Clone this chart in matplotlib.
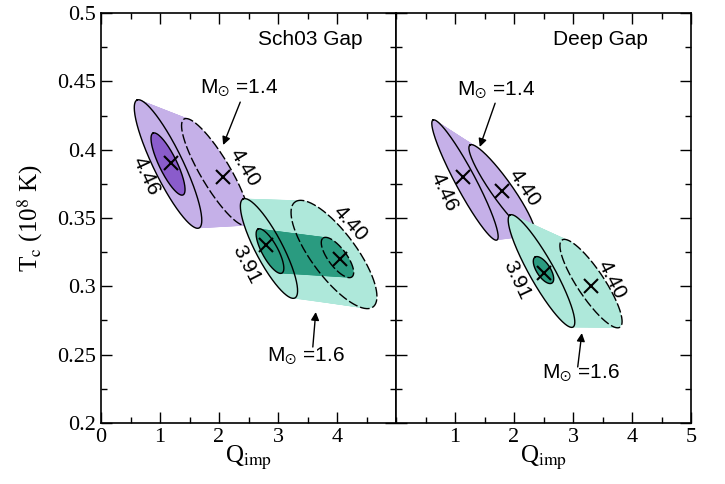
import numpy as np
import matplotlib
matplotlib.use("Agg")
import matplotlib.pyplot as plt

plt.rcParams['mathtext.fontset'] = 'stix'
SERIF = 'Liberation Serif'
SANS = 'Liberation Sans'

# ---------------- data ----------------
# ellipse: (centre x, centre y, major-axis tip x, tip y, minor semi-axis in Q units)
# Left panel (Sch03 Gap)
L_P446_out = (1.136, 0.3895, 0.610, 0.4363, 0.25)
L_P446_in = (1.136, 0.3895, 0.881, 0.4121, 0.15)
L_P440_out = (1.941, 0.3836, 1.407, 0.4224, 0.25)
L_G391_out = (2.847, 0.3277, 2.407, 0.3639, 0.23)
L_G391_in = (2.864, 0.3258, 2.661, 0.3419, 0.135)
L_G440_out = (3.949, 0.3233, 3.288, 0.3617, 0.38)
L_G440_in = (4.008, 0.3211, 3.763, 0.3353, 0.155)
# Right panel (Deep Gap)
R_P446_out = (1.169, 0.3778, 0.627, 0.4217, 0.17)
R_P440_out = (1.797, 0.3704, 1.254, 0.4034, 0.175)
R_G391_out = (2.466, 0.3112, 1.932, 0.3522, 0.21)
R_G391_in = (2.500, 0.3119, 2.356, 0.3214, 0.115)
R_G440_out = (3.305, 0.3020, 2.814, 0.3339, 0.23)

# best-fit crosses
L_cross_q = [1.18, 2.07, 2.80, 4.05]
L_cross_t = [0.390, 0.380, 0.330, 0.320]
R_cross_q = [1.14, 1.80, 2.51, 3.31]
R_cross_t = [0.380, 0.370, 0.310, 0.300]

# contour labels: (text, q, T, rotation)
L_labels = [("4.46", 0.76, 0.381, -65), ("4.40", 2.43, 0.3865, -59),
            ("3.91", 2.47, 0.3156, -63), ("4.40", 4.22, 0.3463, -48)]
R_labels = [("4.46", 0.81, 0.369, -65), ("4.40", 2.18, 0.372, -56),
            ("3.91", 2.05, 0.3046, -65), ("4.40", 3.66, 0.3046, -63)]

# mass annotations: (text, text q, text T, arrow tail q, T, head q, T)
L_ann = [("M$_{\\odot}$ =1.4", 2.34, 0.445, 2.36, 0.4348, 2.07, 0.4034),
         ("M$_{\\odot}$ =1.6", 3.47, 0.249, 3.59, 0.2556, 3.64, 0.2812)]
R_ann = [("M$_{\\odot}$ =1.4", 1.69, 0.4436, 1.68, 0.434, 1.42, 0.402),
         ("M$_{\\odot}$ =1.6", 3.14, 0.2366, 3.08, 0.241, 3.15, 0.2658)]

panel_titles = ["Sch03 Gap", "Deep Gap"]
x_ticks_left = [0, 1, 2, 3, 4]
x_ticks_right = [1, 2, 3, 4, 5]
y_ticks = [0.2, 0.25, 0.3, 0.35, 0.4, 0.45, 0.5]

LP = '#c5b0e8'
DP = '#8a5ccb'
LG = '#aee8da'
DG = '#2a9b80'

fig = plt.figure(figsize=(7.25, 4.84), dpi=100)
W, H = 725, 484
axL = fig.add_axes([101 / W, 61 / H, 295 / W, 410 / H])
axR = fig.add_axes([396 / W, 61 / H, 295 / W, 410 / H])

XR = (0, 5)
YR = (0.2, 0.5)
# aspect factor: pixels per T unit / pixels per Q unit
S = (410 / (YR[1] - YR[0])) / (295 / (XR[1] - XR[0]))


def ell(e, n=240):
    cx, cy, tx, ty, b = e
    ux, uy = tx - cx, (ty - cy) * S
    L = np.hypot(ux, uy)
    nx, ny = uy / L, -ux / L
    t = np.linspace(0, 2 * np.pi, n)
    X = cx + np.cos(t) * ux + np.sin(t) * b * nx
    Y = cy + (np.cos(t) * uy + np.sin(t) * b * ny) / S
    return X, Y


def sweep(ax, e1, e2, color, z, steps=50):
    a = np.array(e1)
    c = np.array(e2)
    for s in np.linspace(0, 1, steps):
        X, Y = ell(tuple(a + (c - a) * s))
        ax.fill(X, Y, color=color, lw=0, zorder=z)


def outline(ax, e, ls, z):
    X, Y = ell(e)
    if ls == '-':
        ax.plot(X, Y, color='k', lw=1.0, zorder=z)
    else:
        ax.plot(X, Y, color='k', lw=1.0, ls=(0, (7, 2)), zorder=z)


# ---- left panel ----
sweep(axL, L_P446_out, L_P440_out, LP, 1)
X, Y = ell(L_P446_in)
axL.fill(X, Y, color=DP, lw=0, zorder=2)
outline(axL, L_P446_out, '-', 3)
outline(axL, L_P446_in, '-', 3)
outline(axL, L_P440_out, '--', 3)
sweep(axL, L_G391_out, L_G440_out, LG, 4)
sweep(axL, L_G391_in, L_G440_in, DG, 5)
outline(axL, L_G391_out, '-', 6)
outline(axL, L_G391_in, '-', 6)
outline(axL, L_G440_out, '--', 6)
outline(axL, L_G440_in, '--', 6)

# ---- right panel ----
sweep(axR, R_P446_out, R_P440_out, LP, 1)
outline(axR, R_P446_out, '-', 3)
outline(axR, R_P440_out, '-', 3)
sweep(axR, R_G391_out, R_G440_out, LG, 4)
X, Y = ell(R_G391_in)
axR.fill(X, Y, color=DG, lw=0, zorder=5)
outline(axR, R_G391_out, '-', 6)
outline(axR, R_G391_in, '-', 6)
outline(axR, R_G440_out, '--', 6)

for ax, cq, ct, labs, anns, title, xt in [
        (axL, L_cross_q, L_cross_t, L_labels, L_ann, panel_titles[0], x_ticks_left),
        (axR, R_cross_q, R_cross_t, R_labels, R_ann, panel_titles[1], x_ticks_right)]:
    ax.plot(cq, ct, ls='none', marker='x', ms=10, mew=1.5, color='k', zorder=8)
    for txt, q, t, rot in labs:
        ax.text(q, t, txt, rotation=rot, ha='center', va='center',
                fontsize=15, family=SANS, zorder=9, rotation_mode='anchor')
    for txt, tq, tt, aq, at, hq, ht in anns:
        ax.text(tq, tt, txt, ha='center', va='center', fontsize=15,
                family=SANS, zorder=9)
        ax.annotate('', xy=(hq, ht), xytext=(aq, at),
                    arrowprops=dict(arrowstyle='-|>', color='k', lw=1.0,
                                    mutation_scale=12, shrinkA=0, shrinkB=0),
                    zorder=9)
    ax.set_xlim(*XR)
    ax.set_ylim(*YR)
    ax.set_xticks(xt)
    ax.set_xticks(np.arange(0, 5.01, 0.5), minor=True)
    ax.set_yticks(y_ticks)
    ax.set_yticks(np.arange(0.2, 0.5001, 0.025), minor=True)
    ax.tick_params(which='both', direction='in', top=True, right=True,
                   width=1.0, labelsize=16)
    ax.tick_params(which='major', length=8)
    ax.tick_params(which='minor', length=4)
    for lab in ax.get_xticklabels() + ax.get_yticklabels():
        lab.set_family(SERIF)
    for sp in ax.spines.values():
        sp.set_linewidth(1.2)
    ax.set_xlabel('Q$_{\\rm imp}$', fontsize=18, family=SERIF)
    ax.xaxis.set_label_coords(0.5, -0.05)

axL.text(0.888, 0.935, panel_titles[0], transform=axL.transAxes, ha='right',
         va='center', fontsize=15, family=SANS)
axR.text(0.854, 0.935, panel_titles[1], transform=axR.transAxes, ha='right',
         va='center', fontsize=15, family=SANS)

axL.set_yticklabels(['0.2', '0.25', '0.3', '0.35', '0.4', '0.45', '0.5'])
axR.set_yticklabels([])
axL.set_ylabel('T$_{\\rm c}$ (10$^{8}$ K)', fontsize=18, family=SERIF)
axL.yaxis.set_label_coords(-0.19, 0.5)

fig.savefig('out.png', dpi=100)
